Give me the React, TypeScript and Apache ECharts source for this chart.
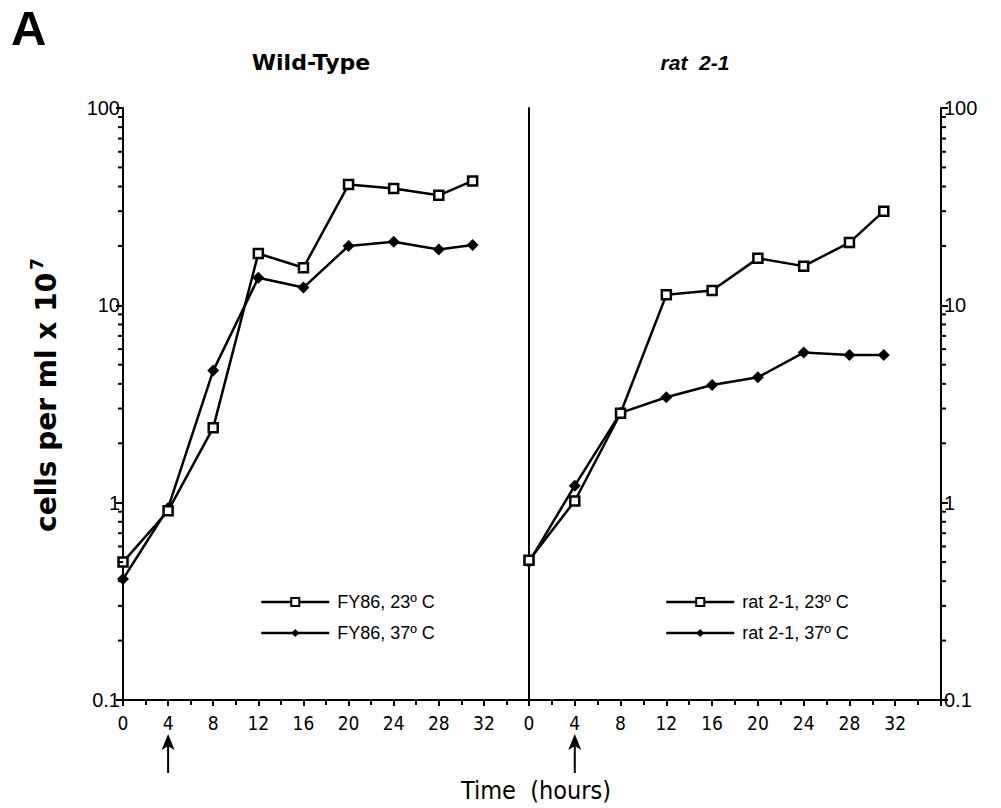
import React, { useEffect, useRef } from "react";
import * as echarts from "echarts";

// ---- data ----
const hours = [0, 4, 8, 12, 16, 20, 24, 28, 31];
const fy86At23 = [0.5, 0.91, 2.4, 18.3, 15.5, 40.9, 39.1, 36.1, 42.7];
const fy86At37 = [0.41, 0.94, 4.67, 13.8, 12.3, 20.0, 21.0, 19.2, 20.2];
const rat21At23 = [0.51, 1.02, 2.84, 11.3, 11.9, 17.3, 15.8, 20.8, 30.0];
const rat21At37 = [0.5, 1.22, 2.85, 3.42, 3.95, 4.32, 5.76, 5.6, 5.6];

const seriesNames = ["FY86, 23º C", "FY86, 37º C", "rat 2-1, 23º C", "rat 2-1, 37º C"];
const xTickLabels = ["0", "4", "8", "12", "16", "20", "24", "28", "32"];
const yTickLabels = ["0.1", "1", "10", "100"];
const decades = [0.1, 1, 10];
const minorMultipliers = [2, 3, 4, 5, 6, 7, 8, 9];
const shiftHour = 4;

const NARROW = "'Liberation Sans Narrow', 'DejaVu Sans Condensed', 'Liberation Sans', sans-serif";
const SANS = "'Liberation Sans', Arial, sans-serif";

export default function App() {
  const ref = useRef<HTMLDivElement>(null);
  useEffect(() => {
    if (!ref.current) return;
    const chart = echarts.init(ref.current, null, { renderer: "svg" });

    const minorVals: number[] = [];
    decades.forEach((d) => minorMultipliers.forEach((m) => minorVals.push(+(d * m).toPrecision(3))));

    const pair = (ys: number[]) => hours.map((h, i) => [h, ys[i]]);

    const xAxisBase = (gridIndex: number) => ({
      type: "value",
      gridIndex,
      min: 0,
      max: 36,
      interval: 4,
      axisLine: { show: true, onZero: false, lineStyle: { color: "#000", width: 2 } },
      axisTick: { show: true, inside: false, length: 6, lineStyle: { color: "#000", width: 2 } },
      minorTick: { show: true, splitNumber: 2, length: 5, lineStyle: { color: "#000", width: 2 } },
      splitLine: { show: false },
      axisLabel: {
        showMaxLabel: false,
        margin: 13,
        color: "#000",
        fontSize: 19,
        fontFamily: NARROW,
        formatter: (v: number) => xTickLabels[v / 4] ?? "",
      },
    });

    const yLabelFormatter = (v: number) => {
      const idx = Math.round(Math.log10(v)) + 1;
      return yTickLabels[idx] ?? "";
    };

    const yAxisBase = (gridIndex: number, position: string, showLabels: boolean) => ({
      type: "log",
      logBase: 10,
      gridIndex,
      position,
      min: 0.1,
      max: 100,
      axisLine: { show: true, lineStyle: { color: "#000", width: 2 } },
      axisTick: { show: showLabels, inside: false, length: 7, lineStyle: { color: "#000", width: 2 } },
      splitLine: { show: false },
      axisLabel: {
        show: showLabels,
        color: "#000",
        fontSize: 20,
        fontFamily: SANS,
        margin: 3,
        formatter: yLabelFormatter,
      },
    });

    const squareStyle = {
      symbol: "rect",
      symbolSize: 9,
      itemStyle: { color: "#fff", borderColor: "#000", borderWidth: 2.5 },
      lineStyle: { color: "#000", width: 2.5 },
    };
    const diamondStyle = {
      symbol: "diamond",
      symbolSize: 12,
      itemStyle: { color: "#000" },
      lineStyle: { color: "#000", width: 2.5 },
    };

    const minorTicks = (xAxisIndex: number, yAxisIndex: number, xVal: number, dir: number) => ({
      type: "custom",
      xAxisIndex,
      yAxisIndex,
      silent: true,
      clip: false,
      z: 5,
      data: minorVals.map((v) => [xVal, v, dir]),
      renderItem: (_p: any, api: any) => {
        const p = api.coord([api.value(0), api.value(1)]);
        const d = api.value(2);
        return {
          type: "line",
          shape: { x1: p[0], y1: p[1], x2: p[0] + d * 5, y2: p[1] },
          style: { stroke: "#000", lineWidth: 2 },
        };
      },
    });

    const legendBase = (left: number, data: string[]) => ({
      left,
      top: 593,
      orient: "vertical",
      padding: 0,
      itemWidth: 68,
      itemHeight: 10,
      itemGap: 13,
      data,
      selectedMode: false,
      lineStyle: { color: "#000", width: 2.5 },
      textStyle: { color: "#000", fontSize: 18, fontFamily: SANS, padding: [0, 0, 0, 3] },
    });

    const option: any = {
      animation: false,
      backgroundColor: "#fff",
      grid: [
        { left: 123, top: 108, width: 406, height: 592 },
        { left: 529, top: 108, width: 412, height: 592 },
      ],
      xAxis: [xAxisBase(0), xAxisBase(1)],
      yAxis: [yAxisBase(0, "left", true), yAxisBase(1, "left", false), yAxisBase(1, "right", true)],
      legend: [
        legendBase(260, [seriesNames[0], seriesNames[1]]),
        legendBase(665, [seriesNames[2], seriesNames[3]]),
      ],
      series: [
        { type: "line", name: seriesNames[0], xAxisIndex: 0, yAxisIndex: 0, data: pair(fy86At23), z: 3, ...squareStyle },
        { type: "line", name: seriesNames[1], xAxisIndex: 0, yAxisIndex: 0, data: pair(fy86At37), z: 2, ...diamondStyle },
        { type: "line", name: seriesNames[2], xAxisIndex: 1, yAxisIndex: 2, data: pair(rat21At23), z: 3, ...squareStyle },
        { type: "line", name: seriesNames[3], xAxisIndex: 1, yAxisIndex: 2, data: pair(rat21At37), z: 2, ...diamondStyle },
        minorTicks(0, 0, 0, -1),
        minorTicks(1, 2, 36, 1),
      ],
    };
    chart.setOption(option);

    const axisY = chart.convertToPixel({ yAxisIndex: 0 }, 0.1) as number;
    const arrowXs = [
      chart.convertToPixel({ xAxisIndex: 0 }, shiftHour) as number,
      chart.convertToPixel({ xAxisIndex: 1 }, shiftHour) as number,
    ];
    const arrowTop = axisY + 34;
    const arrows = arrowXs.map((x) => ({
      type: "group",
      children: [
        { type: "line", shape: { x1: x, y1: arrowTop + 10, x2: x, y2: arrowTop + 39 }, style: { stroke: "#000", lineWidth: 2 } },
        {
          type: "polygon",
          shape: { points: [[x, arrowTop], [x - 6.5, arrowTop + 16], [x, arrowTop + 12], [x + 6.5, arrowTop + 16]] },
          style: { fill: "#000" },
        },
      ],
    }));

    chart.setOption({
      graphic: [
        { type: "text", x: 11, y: 3, style: { text: "A", fontSize: 49, fontWeight: "bold", fontFamily: SANS, fill: "#000" } },
        {
          type: "text",
          x: 311,
          y: 62,
          style: {
            text: "Wild-Type",
            fontSize: 22,
            fontWeight: "bold",
            fontFamily: "'DejaVu Sans', sans-serif",
            fill: "#000",
            align: "center",
            verticalAlign: "middle",
          },
        },
        {
          type: "text",
          x: 695,
          y: 62,
          style: {
            text: "rat  2-1",
            fontSize: 21,
            fontWeight: "bold",
            fontStyle: "italic",
            fontFamily: SANS,
            fill: "#000",
            align: "center",
            verticalAlign: "middle",
          },
        },
        {
          type: "text",
          x: 46,
          y: 395,
          rotation: Math.PI / 2,
          style: {
            text: "{a|cells per ml x 10}{s|7}",
            align: "center",
            verticalAlign: "middle",
            fill: "#000",
            rich: {
              a: { fontSize: 28, fontWeight: "bold", fontFamily: "'DejaVu Sans', sans-serif", fill: "#000" },
              s: { fontSize: 17, fontWeight: "bold", fontFamily: "'DejaVu Sans', sans-serif", fill: "#000", padding: [0, 0, 18, 3] },
            },
          },
        },
        {
          type: "text",
          x: 536,
          y: 790,
          style: {
            text: "Time  (hours)",
            fontSize: 25,
            fontFamily: NARROW,
            fill: "#000",
            align: "center",
            verticalAlign: "middle",
          },
        },
        ...arrows,
      ],
    });

    return () => chart.dispose();
  }, []);
  return <div ref={ref} style={{ position: "fixed", left: 0, top: 0, width: 1001, height: 808 }} />;
}
